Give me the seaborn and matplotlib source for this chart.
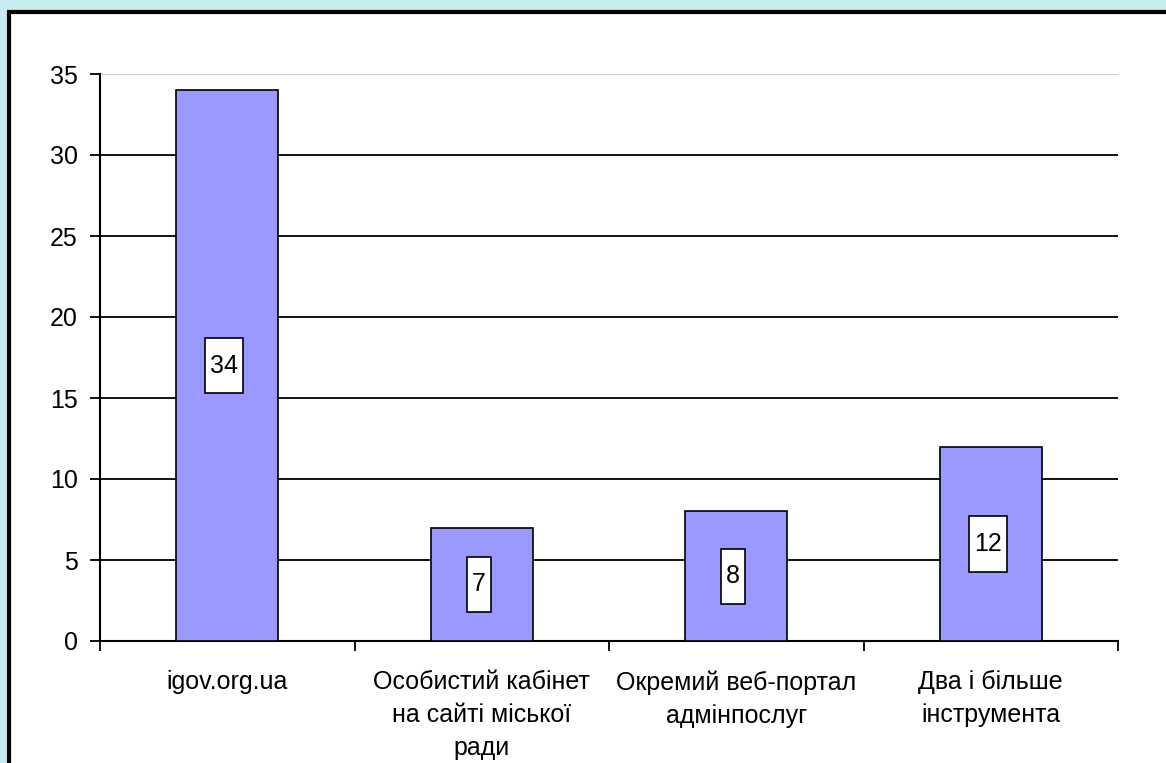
import matplotlib
matplotlib.use("Agg")
import matplotlib.pyplot as plt
import matplotlib.patches as mpatches
import seaborn as sns
import pandas as pd

categories = ["igov.org.ua", "Особистий кабінет\nна сайті міської\nради",
              "Окремий веб-портал\nадмінпослуг", "Два і більше\nінструмента"]
values = [34, 7, 8, 12]
yticks = [0, 5, 10, 15, 20, 25, 30, 35]

sns.set_theme(style="white")
plt.rcParams['font.family'] = ['Liberation Sans', 'DejaVu Sans']
plt.rcParams['text.color'] = 'black'
plt.rcParams['xtick.color'] = 'black'
plt.rcParams['ytick.color'] = 'black'

df = pd.DataFrame({"cat": categories, "val": values})

fig = plt.figure(figsize=(11.66, 7.63), dpi=100)
fig.patch.set_facecolor("#c6ecef")
# white panel with black border
panel = mpatches.Rectangle((9 / 1166, -0.05), 1.1, (763 - 12) / 763 + 0.05,
                           transform=fig.transFigure, facecolor="white",
                           edgecolor="black", linewidth=3, zorder=-10)
fig.patches.append(panel)

ax = fig.add_axes([100 / 1166, 1 - 641 / 763, (1118 - 100) / 1166, (641 - 74) / 763])
ax.set_facecolor("none")
ax.set_zorder(5)

sns.barplot(data=df, x="cat", y="val", ax=ax, color="#9999ff", saturation=1,
            width=0.4, edgecolor="black", linewidth=1.2, zorder=3)

ax.set_ylim(0, 35)
ax.set_xlim(-0.5, len(categories) - 0.5)
ax.set_yticks(yticks)
ax.set_yticklabels([str(t) for t in yticks], fontsize=18)
ax.set_xlabel("")
ax.set_ylabel("")
ax.set_xticks(range(len(categories)))
ax.set_xticklabels(categories, fontsize=18, linespacing=1.47)
ax.tick_params(axis="x", length=0, pad=21)
ax.tick_params(axis="y", length=7, width=1.3, color="black", pad=9, left=True)

# category boundary ticks
ax.set_xticks([i - 0.5 for i in range(len(categories) + 1)], minor=True)
ax.tick_params(axis="x", which="minor", length=7, width=1.3, color="black", bottom=True)

for t in yticks[1:-1]:
    ax.axhline(t, color="black", linewidth=1.3, zorder=1)
ax.axhline(35, color="#d0d0d0", linewidth=1.5, zorder=1)

for s in ["top", "right"]:
    ax.spines[s].set_visible(False)
ax.spines["left"].set_color("black")
ax.spines["left"].set_linewidth(1.5)
ax.spines["bottom"].set_color("black")
ax.spines["bottom"].set_linewidth(1.5)

for i, v in enumerate(values):
    ax.text(i - 0.012, v / 2, "\n" + str(v) + "\n", ha="center", va="center", fontsize=18,
            linespacing=0.3, zorder=5,
            bbox=dict(boxstyle="square,pad=0.2", facecolor="white",
                      edgecolor="black", linewidth=1.2))

fig.savefig("out.png", dpi=100, facecolor=fig.get_facecolor())
